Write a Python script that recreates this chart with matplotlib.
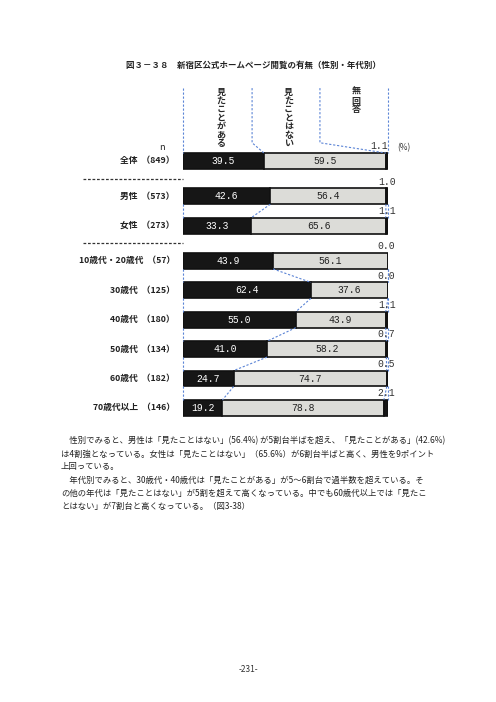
import matplotlib.pyplot as plt
import numpy as np

plt.rcParams['font.family'] = ['Noto Sans CJK JP', 'DejaVu Sans']

# data (%)
groups = ['全体', '男性', '女性', '10歳代・20歳代', '30歳代', '40歳代', '50歳代', '60歳代', '70歳代以上']
n_counts = [849, 573, 273, 57, 125, 180, 134, 182, 146]
seen = [39.5, 42.6, 33.3, 43.9, 62.4, 55.0, 41.0, 24.7, 19.2]
not_seen = [59.5, 56.4, 65.6, 56.1, 37.6, 43.9, 58.2, 74.7, 78.8]
no_answer = [1.1, 1.0, 1.1, 0.0, 0.0, 1.1, 0.7, 0.5, 2.1]
block = [0, 1, 1, 2, 2, 2, 2, 2, 2]
headers = ['見たことがある', '見たことはない', '無回答']

title = '図３－３８　新宿区公式ホームページ閲覧の有無（性別・年代別）'
body = [
    '　性別でみると、男性は「見たことはない」(56.4%) が5割台半ばを超え、「見たことがある」(42.6%)',
    'は4割強となっている。女性は「見たことはない」（65.6%）が6割台半ばと高く、男性を9ポイント',
    '上回っている。',
    '　年代別でみると、30歳代・40歳代は「見たことがある」が5～6割台で過半数を超えている。そ',
    'の他の年代は「見たことはない」が5割を超えて高くなっている。中でも60歳代以上では「見たこ',
    'とはない」が7割台と高くなっている。（図3-38）',
]

seen = np.array(seen)
not_seen = np.array(not_seen)
no_answer = np.array(no_answer)
pos = np.arange(len(groups)) + 0.2 * np.array(block)
cum1 = seen
cum2 = seen + not_seen
h = 0.54

fig = plt.figure(figsize=(4.96, 7.02), dpi=100)
ax = fig.add_axes([183 / 496, 1 - 430 / 702, 205 / 496, 350 / 702])
ax.set_xlim(0, 100)
ax.set_ylim(9.15, -2.755)
ax.axis('off')

ax.barh(pos, seen, height=h, color='#161616', edgecolor='#111111', linewidth=1.2)
ax.barh(pos, not_seen, left=cum1, height=h, color='#dcdcd8', edgecolor='#111111', linewidth=1.2)
ax.barh(pos, no_answer, left=cum2, height=h, color='#161616', edgecolor='#111111', linewidth=1.2)

mono = 'Liberation Mono'
for i in range(len(groups)):
    ax.text(seen[i] / 2, pos[i], f'{seen[i]:.1f}', color='white', ha='center', va='center',
            fontsize=7, family=mono)
    ax.text(cum1[i] + not_seen[i] / 2, pos[i], f'{not_seen[i]:.1f}', color='#222222',
            ha='center', va='center', fontsize=7, family=mono)
    lx = 95.5 if i == 0 else 99.3
    ax.text(lx, pos[i] - 0.5, f'{no_answer[i]:.1f}', color='#333333', ha='center', va='center',
            fontsize=7, family=mono, clip_on=False)
    ax.text(-4, pos[i], f'{groups[i]}  （{n_counts[i]}）', ha='right', va='center',
            fontsize=6.3, fontweight='bold', color='#222222', clip_on=False)

# separators between blocks
for b in range(1, 3):
    i = block.index(b)
    ysep = (pos[i - 1] + pos[i]) / 2
    ax.plot([-48.8, 0], [ysep, ysep], color='#333333', lw=0.9, ls=(0, (2.2, 1.4)), clip_on=False)

# dashed connectors between bars of the same block
dash = dict(color='#5b84d6', lw=0.8, ls=(0, (2, 1.6)), clip_on=False)
for i in range(len(groups) - 1):
    if block[i] != block[i + 1]:
        continue
    y0, y1 = pos[i] + h / 2, pos[i + 1] - h / 2
    for up, lo in [(0, 0), (cum1[i], cum1[i + 1]), (cum2[i], cum2[i + 1]), (100, 100)]:
        ax.plot([up, lo], [y0, y1], **dash)

# header columns
ytop, ymid, ybar = -2.48, -0.62, pos[0] - h / 2
ax.plot([0, 0], [ytop, ybar], **dash)
ax.plot([33.7, 33.7, cum1[0]], [ytop, ymid, ybar], **dash)
ax.plot([66.8, 66.8, cum2[0]], [ytop, ymid, ybar], **dash)
ax.plot([100, 100], [ytop, ybar], **dash)
for x, lab in zip([18.6, 51.5, 84.5], headers):
    ax.text(x, ytop, '\n'.join(lab), ha='center', va='top', fontsize=6.5, fontweight='bold',
            linespacing=0.93, color='#2a2a2a', clip_on=False)
ax.text(-10.5, -0.45, 'n', ha='center', va='center', fontsize=6.5, color='#222222', clip_on=False)
ax.text(104.5, -0.45, '(%)', ha='left', va='center', fontsize=6, color='#333333', clip_on=False)

fig.text(253 / 496, 1 - 65 / 702, title, ha='center', va='center', fontsize=6.1,
         fontweight='bold', color='#222222')

for k, line in enumerate(body):
    fig.text(61 / 496, 1 - (441 + 13 * k) / 702, line, ha='left', va='center',
             fontsize=6.0, color='#222222')

fig.text(248 / 496, 1 - 670 / 702, '-231-', ha='center', va='center', fontsize=6,
         color='#333333')

fig.savefig('out.png', dpi=100, facecolor='white')
